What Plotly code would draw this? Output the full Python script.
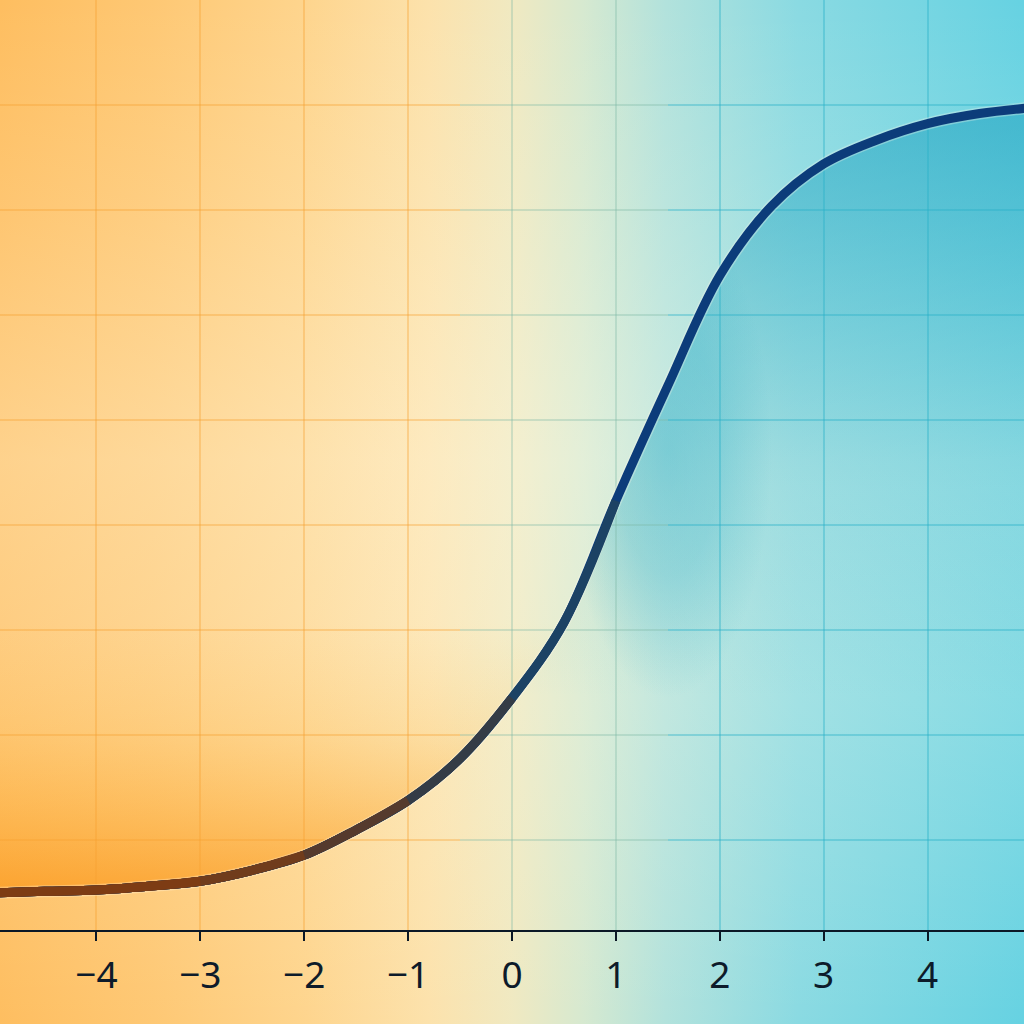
import plotly.graph_objects as go

# ---- data ----
x_vals = [-5, -4.5, -4, -3.5, -3, -2.5, -2, -1.5, -1, -0.5, 0, 0.5, 1, 1.5, 2, 2.5, 3, 3.5, 4, 4.5, 5]
y_vals = [0.062, 0.064, 0.0655, 0.070, 0.076, 0.089, 0.107, 0.137, 0.172, 0.222, 0.294, 0.384,
          0.529, 0.666, 0.797, 0.880, 0.930, 0.958, 0.978, 0.990, 0.997]
x_ticks = [-4, -3, -2, -1, 0, 1, 2, 3, 4]

# ---- view / styling constants ----
X0, X1 = -4.928, 4.928
Y_MAIN = [0.0179, 1.1252]
Y_FULL = [-0.094, 1.1252]
AX_BOTTOM = 94 / 1024
FONT = "Noto Sans"


def frac(x):
    return (x - X0) / (X1 - X0)


fig = go.Figure()

# background (subplot 1 covers whole paper)
rect_x = [X0, X1, X1, X0, X0]
rect_y = [Y_FULL[0], Y_FULL[0], Y_FULL[1], Y_FULL[1], Y_FULL[0]]
fig.add_trace(go.Scatter(
    x=rect_x, y=rect_y, mode="none", fill="toself", hoverinfo="skip", showlegend=False,
    fillgradient=dict(type="horizontal", start=X0, stop=X1, colorscale=[
        [0.00, "rgb(254,190,96)"],
        [0.15, "rgb(254,200,116)"],
        [0.30, "rgb(254,213,142)"],
        [0.42, "rgb(252,226,172)"],
        [0.50, "rgb(240,233,193)"],
        [0.57, "rgb(214,233,208)"],
        [0.65, "rgb(178,226,220)"],
        [0.78, "rgb(138,218,226)"],
        [1.00, "rgb(102,210,226)"],
    ]),
    xaxis="x", yaxis="y"))
# soft light band through the middle
fig.add_trace(go.Scatter(
    x=rect_x, y=rect_y, mode="none", fill="toself", hoverinfo="skip", showlegend=False,
    fillgradient=dict(type="vertical", start=Y_FULL[0], stop=Y_FULL[1], colorscale=[
        [0.00, "rgba(255,252,235,0.0)"],
        [0.30, "rgba(255,252,235,0.20)"],
        [0.55, "rgba(255,252,235,0.32)"],
        [0.80, "rgba(255,252,235,0.12)"],
        [1.00, "rgba(255,252,235,0.0)"],
    ]),
    xaxis="x", yaxis="y"))

# glow fills tied to the curve
iL = x_vals.index(0.5)
LEVEL_L = y_vals[iL]
lx = x_vals[: iL + 1]
ly = y_vals[: iL + 1]
fig.add_trace(go.Scatter(
    x=lx + lx[::-1], y=ly + [LEVEL_L] * len(lx), mode="none", fill="toself",
    hoverinfo="skip", showlegend=False,
    fillgradient=dict(type="vertical", start=0.06, stop=LEVEL_L, colorscale=[
        [0.0, "rgba(250,140,5,0.6)"],
        [0.3, "rgba(252,158,28,0.38)"],
        [0.6, "rgba(254,172,45,0.15)"],
        [1.0, "rgba(255,190,80,0.0)"],
    ]),
    xaxis="x", yaxis="y"))
iR = x_vals.index(0)
LEVEL = y_vals[iR]
rx = x_vals[iR:]
ry = y_vals[iR:]
fig.add_trace(go.Scatter(
    x=rx + rx[::-1], y=ry + [LEVEL] * len(rx), mode="none", fill="toself",
    hoverinfo="skip", showlegend=False,
    fillgradient=dict(type="vertical", start=LEVEL, stop=1.0, colorscale=[
        [0.0, "rgba(30,165,195,0.0)"],
        [0.35, "rgba(30,165,195,0.12)"],
        [0.7, "rgba(30,165,195,0.35)"],
        [1.0, "rgba(30,160,190,0.55)"],
    ]),
    xaxis="x", yaxis="y"))
i0 = x_vals.index(0.5)
i1 = x_vals.index(2.5)
mx = x_vals[i0: i1 + 1]
my = y_vals[i0: i1 + 1]
fig.add_trace(go.Scatter(
    x=mx + mx[::-1], y=my + [LEVEL] * len(mx), mode="none", fill="toself",
    hoverinfo="skip", showlegend=False,
    fillgradient=dict(type="radial", colorscale=[
        [0.0, "rgba(30,170,200,0.35)"],
        [0.5, "rgba(30,170,200,0.25)"],
        [1.0, "rgba(30,170,200,0.0)"],
    ]),
    xaxis="x", yaxis="y"))

# grid subplots (left warm, middle neutral, right cool)
grid_parts = [
    ("x2", "y2", [X0, -0.5], "rgba(245,160,50,0.35)"),
    ("x3", "y3", [-0.5, 1.5], "rgba(125,185,165,0.32)"),
    ("x4", "y4", [1.5, X1], "rgba(40,175,200,0.38)"),
]
for xa, ya, rng, col in grid_parts:
    fig.add_trace(go.Scatter(x=[], y=[], xaxis=xa, yaxis=ya, showlegend=False))

# curve: light halo + colour-graded line
fig.add_trace(go.Scatter(x=x_vals, y=y_vals, mode="lines", line=dict(color="rgba(255,250,235,0.3)", width=12, shape="spline"),
                         hoverinfo="skip", showlegend=False, xaxis="x5", yaxis="y5"))
fig.add_trace(go.Scatter(x=x_vals, y=y_vals, mode="lines", line=dict(color="rgb(12,60,122)", width=9, shape="spline"),
                         showlegend=False, xaxis="x5", yaxis="y5"))
overlays = [(1, "rgb(28,66,100)"), (0, "rgb(52,60,70)"), (-1, "rgb(85,58,45)"), (-2, "rgb(112,60,28)"), (-3, "rgb(125,60,20)")]
for xe, col in overlays:
    k = x_vals.index(xe) + 1
    fig.add_trace(go.Scatter(x=x_vals[:k], y=y_vals[:k], mode="lines", line=dict(color=col, width=9, shape="spline"),
                             hoverinfo="skip", showlegend=False, xaxis="x5", yaxis="y5"))

hidden = dict(visible=False, showgrid=False, zeroline=False)
layout = dict(
    width=1024, height=1024, margin=dict(l=0, r=0, t=0, b=0),
    paper_bgcolor="rgb(250,225,180)", plot_bgcolor="rgba(0,0,0,0)",
    showlegend=False,
    xaxis=dict(domain=[0, 1], range=[X0, X1], **hidden),
    yaxis=dict(domain=[0, 1], range=Y_FULL, **hidden),
    xaxis5=dict(domain=[0, 1], range=[X0, X1], anchor="y5", showgrid=False, zeroline=False,
                showline=True, linecolor="#0b1826", linewidth=2,
                ticks="outside", ticklen=9, tickwidth=2, tickcolor="#0b1826",
                tickvals=x_ticks, ticklabelstandoff=3,
                tickfont=dict(family=FONT, size=37, color="#0d1b2a")),
    yaxis5=dict(domain=[AX_BOTTOM, 1], range=Y_MAIN, anchor="x5", **hidden),
)
for xa, ya, rng, col in grid_parts:
    xk = "xaxis" + xa[1:]
    yk = "yaxis" + ya[1:]
    layout[xk] = dict(domain=[frac(rng[0]), frac(rng[1])], range=rng, anchor=ya,
                      showgrid=True, gridcolor=col, gridwidth=2, zeroline=False,
                      showticklabels=False, ticks="", tick0=0, dtick=1, showline=False)
    layout[yk] = dict(domain=[AX_BOTTOM, 1], range=Y_MAIN, anchor=xa,
                      showgrid=True, gridcolor=col, gridwidth=2, zeroline=False,
                      showticklabels=False, ticks="", tick0=0.125, dtick=0.125, showline=False)
fig.update_layout(**layout)

fig.write_html("out.html", config={"displayModeBar": False, "staticPlot": True},
               post_script="document.body.style.margin='0';document.body.style.overflow='hidden';")
